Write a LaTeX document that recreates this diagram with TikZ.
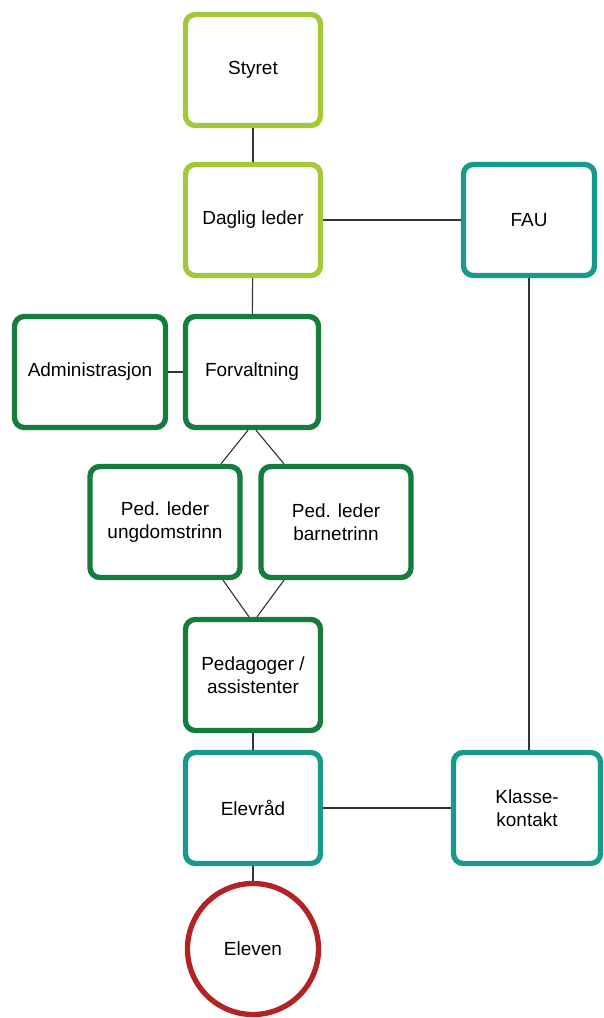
\documentclass[tikz,border=0pt]{standalone}
\usepackage{fontspec}
\setmainfont{Liberation Sans}
\usetikzlibrary{shadows}
\definecolor{lysgronn}{RGB}{164,200,57}
\definecolor{morkgronn}{RGB}{22,124,62}
\definecolor{turkis}{RGB}{24,154,138}
\definecolor{rod}{RGB}{178,36,36}
\begin{document}
\begin{tikzpicture}[x=0.025cm,y=-0.025cm]
            \tikzstyle{boks}=[draw,line width=3.8pt,rounded corners=7pt,fill=white,align=center,
                minimum width=3.375cm,minimum height=2.775cm,inner sep=2pt,
                font=\fontsize{13.5}{16.5}\selectfont,
                drop shadow={shadow xshift=0.7pt,shadow yshift=-0.9pt,opacity=0.3}]
            \tikzstyle{linje}=[draw=black!80,line width=0.8pt]
            \useasboundingbox (0,0) rectangle (604,1018);
            \node[boks,draw=lysgronn] (styret) at (253,70) {Styret};
            \node[boks,draw=lysgronn] (daglig) at (253,220) {Daglig leder};
            \node[boks,draw=turkis,minimum width=3.275cm] (fau) at (529,220) {FAU};
            \node[boks,draw=morkgronn,minimum width=3.775cm] (admin) at (90,372) {Administrasjon};
            \node[boks,draw=morkgronn,minimum width=3.325cm] (forv) at (252,372) {Forvaltning};
            \node[boks,draw=morkgronn,minimum width=3.75cm] (pedu) at (165,522) {Ped. leder\\ungdomstrinn};
            \node[boks,draw=morkgronn,minimum width=3.75cm] (pedb) at (336,522) {Ped. leder\\barnetrinn};
            \node[boks,draw=morkgronn] (pedag) at (253,675) {Pedagoger /\\assistenter};
            \node[boks,draw=turkis] (elevrad) at (253,808) {Elevråd};
            \node[boks,draw=turkis,minimum width=3.675cm] (klasse) at (527,808) {Klasse-\\kontakt};
            \node[boks,draw=rod,circle,minimum size=3.275cm] (eleven) at (253,949) {Eleven};
            % forbindelser
            \draw[linje] (styret) -- (daglig);
            \draw[linje] (daglig) -- (fau);
            \draw[linje] (daglig) -- (forv);
            \draw[linje] (admin) -- (forv);
            \draw[linje] ([xshift=-0.1cm]forv.south) -- ([xshift=1.4cm]pedu.north);
            \draw[linje] ([xshift=0.1cm]forv.south) -- ([xshift=-1.3cm]pedb.north);
            \draw[linje] ([xshift=1.45cm]pedu.south) -- ([xshift=-0.1cm]pedag.north);
            \draw[linje] ([xshift=-1.3cm]pedb.south) -- ([xshift=0.1cm]pedag.north);
            \draw[linje] (fau.south) -- (fau.south |- klasse.north);
            \draw[linje] (pedag) -- (elevrad);
            \draw[linje] (elevrad) -- (klasse);
            \draw[linje] (elevrad) -- (eleven);
        \end{tikzpicture}
\end{document}
